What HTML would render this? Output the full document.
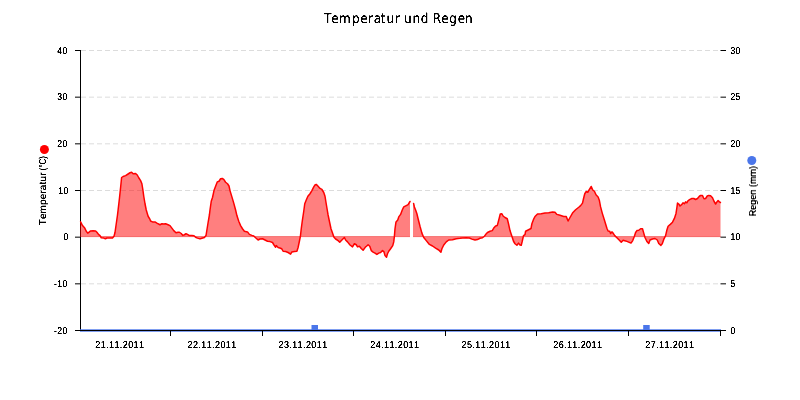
<!DOCTYPE html>
<html lang="de">
<head>
<meta charset="utf-8">
<title>Temperatur und Regen</title>
<style>
html,body{margin:0;padding:0;background:#fff;}
body{width:800px;height:400px;overflow:hidden;}
svg{display:block;}
text{font-family:"Liberation Sans", sans-serif;fill:#000;}
.lab{font-size:10px;letter-spacing:-0.1px;font-kerning:none;text-rendering:geometricPrecision;}
.ttl{font-size:13.7px;font-family:"DejaVu Sans","Liberation Sans",sans-serif;font-kerning:none;text-rendering:geometricPrecision;}
</style>
</head>
<body>
<svg width="800" height="400" viewBox="0 0 800 400">
<defs><filter id="crisp" filterUnits="userSpaceOnUse" x="0" y="0" width="800" height="400" color-interpolation-filters="sRGB"><feComponentTransfer><feFuncA type="linear" slope="3" intercept="-0.5"/></feComponentTransfer></filter><filter id="crisp3" filterUnits="userSpaceOnUse" x="0" y="0" width="800" height="400" color-interpolation-filters="sRGB"><feComponentTransfer><feFuncA type="linear" slope="3" intercept="-0.65"/></feComponentTransfer></filter><filter id="crisp2" filterUnits="userSpaceOnUse" x="0" y="0" width="800" height="400" color-interpolation-filters="sRGB"><feComponentTransfer><feFuncA type="linear" slope="2" intercept="-0.2"/></feComponentTransfer></filter></defs>
<rect x="0" y="0" width="800" height="400" fill="#ffffff"/>
<text class="ttl" transform="scale(0.88,1)" x="368.18 376.52 385.12 399.89 409.47 418.07 424.75 432.58 439.15 448.75 457.84 459.04 468.64 478.22 487.31 491.84 501.52 510.61 520.27 528.30" y="23" filter="url(#crisp3)">Temperatur und Regen</text>
<g stroke="#dcdcdc" stroke-width="1" stroke-dasharray="5 3" fill="none">
<line x1="81" y1="50.50" x2="720" y2="50.50"/>
<line x1="81" y1="97.17" x2="720" y2="97.17"/>
<line x1="81" y1="143.83" x2="720" y2="143.83"/>
<line x1="81" y1="190.50" x2="720" y2="190.50"/>
<line x1="81" y1="283.83" x2="720" y2="283.83"/>
</g>
<line x1="80.5" y1="50" x2="80.5" y2="331" stroke="#000" stroke-width="1"/>
<g fill="#ff0000" fill-opacity="0.5" stroke="none">
<path d="M80 237.0 L80 221.9 L80.6 221.9 L82.5 225.6 L84.75 228.1 L86.25 231.25 L87.75 233.1 L89.4 231.9 L90.6 230.9 L93.1 230.75 L95.6 230.9 L96.9 232.25 L98.5 234.4 L100 235.6 L101.25 237.75 L103.75 238.1 L105.4 238.75 L106.9 238 L110 238 L112.5 237.9 L114 236.25 L115 232.5 L116.25 223.75 L117.5 215 L118.1 210 L119.4 198.75 L120.6 187.5 L121.6 177.5 L123.1 176.5 L125.6 175.6 L128.1 174 L130 172.75 L131.6 172.25 L133.1 173.75 L135.6 173.5 L137.25 175 L138.75 177.75 L140.6 180.6 L141.9 183.75 L142.9 190 L143.75 196.25 L145 203.75 L146.25 210 L148.1 216.25 L150 219.4 L150.6 221 L152.5 221.9 L155 221.9 L156.9 223.1 L160 224.75 L161.9 223.75 L163.75 224.1 L165.6 223.75 L168.1 224.75 L170 225.6 L171.9 228.1 L173.75 230.6 L176 232.75 L178.1 232.25 L179.4 232.25 L181.25 233.5 L182.75 235.4 L184.4 234.75 L186 233.75 L187.5 234.4 L189.4 235.6 L191.9 235.6 L194 235.75 L195.6 237.25 L197.5 238.1 L200 238.9 L201.9 238.25 L204.4 237.5 L206 235.6 L206.9 230 L208.1 222.5 L209.4 215 L210 210 L211.25 201.25 L212.5 197.5 L214 190.6 L215.6 186.25 L217.25 181.9 L219 181.25 L220.6 178.75 L222.25 178.5 L223.75 179.4 L225.6 182.25 L227.5 183.75 L229 186 L230 190.6 L231.9 196.9 L233.75 203.1 L235.6 210 L236.9 215.6 L238.75 221.25 L240.6 225.6 L242.5 228.75 L244.4 231.25 L247.5 231.9 L249.4 234.4 L251.9 235.4 L253.75 236 L255.6 237.75 L258.1 240 L260 239 L262.5 238.75 L265 240 L267.5 241.25 L270 241.6 L272.5 242.5 L274 245 L275.6 247.25 L276.25 245.6 L278.1 247.5 L280.6 248.25 L281.9 249 L283.1 251.25 L285.6 251.5 L288.1 252.5 L290.6 254.1 L291.9 251.9 L294.4 251.5 L296.9 251.25 L298.1 247.5 L299.4 241.25 L300.4 236.25 L301.25 228.75 L302.25 221.25 L303.75 211.25 L304.75 203.75 L306.25 200 L307.9 196.25 L310 193.75 L311.9 190.6 L313.75 186.9 L315 185 L316.25 184.4 L318.1 186.25 L320 188.4 L321.9 189.4 L323.75 192.5 L325 196.25 L326 202.5 L327.25 210 L328.1 215 L329.4 221.25 L331 228.75 L332.5 233.1 L334 237.25 L335.6 239 L338.1 240.6 L339.75 242.25 L341.9 240 L344.4 237.5 L345.6 240 L347.5 241.9 L350 245 L352.5 246.9 L354.4 243.75 L356.25 244.75 L357.5 246.9 L359.4 246.25 L361.25 248.5 L363.1 250.25 L365.6 246.9 L366.5 246.25 L368.1 244.75 L369.75 246.25 L371.25 250.6 L373.1 252.1 L375 253.1 L376.9 254.4 L378.75 253.1 L380.6 252.5 L382.5 250.6 L384 251.9 L385 255.6 L386.5 257.25 L387.5 253.75 L388.75 251.25 L390.6 248.75 L392.75 245.6 L393.75 241.9 L394.4 236.25 L395 228.75 L396 221.9 L397.75 220 L398.75 216.9 L400.6 214.4 L402.25 210 L403.75 206.9 L406.25 205.6 L408.1 204.6 L409.4 202.5 L410 201.5 L410 201.5 L410 237.0 Z"/>
<path d="M413 237.0 L413 203.4 L413.6 203.4 L414.4 206.9 L415.6 210 L416.9 213.75 L418.1 218.75 L420 226.25 L421.9 233.1 L423.75 237.5 L426.25 240.6 L429.4 244.4 L432.5 246 L435.6 248.1 L438.75 250 L440.9 252.25 L441.9 248.75 L443.75 245 L446.25 241.9 L448.75 240 L452.5 239.75 L456.25 238.75 L460 238.3 L462.5 237.9 L466.25 237.75 L469.4 238 L471.9 239.1 L475 240 L477.5 239.6 L480 238.25 L482.5 237.75 L484.4 236.25 L486 234.1 L487.5 232.5 L490 231.25 L492.25 230.6 L493.75 228.1 L495.6 226 L497.25 225.6 L498.1 222.5 L499.4 217.5 L500.25 214 L501.9 213.75 L503.1 216 L505 217.5 L507.25 218.75 L508.5 223.75 L510 230.6 L511.9 236.25 L513.5 241.25 L515 243.75 L516.9 245.25 L518.5 243.1 L520 245 L521.25 245.25 L522.25 241.25 L523.5 235.6 L525 234.6 L525.6 231.25 L528.1 230 L531 228.5 L531.9 223.75 L533.5 219.4 L535 216.5 L537.5 214 L541.25 213.75 L545 213 L548.75 212.75 L552.5 211.9 L555 212.25 L556.9 214.4 L560 215.25 L563.75 216.5 L566.25 216.6 L568.1 221 L570 217.5 L572.5 213.1 L575.6 209.75 L578.75 207.25 L580.6 205.6 L582.5 203.1 L583.5 198.75 L584.75 193.75 L586.25 191.5 L587.75 192.25 L589.4 189.4 L591.25 186.5 L592.75 190 L594.4 191.25 L596 194.75 L598.1 196.9 L599.4 200.6 L600.6 206.9 L602.25 213.1 L604.4 220 L606.9 228.3 L608.1 231 L609.75 231.25 L610.6 233.5 L611.9 231.9 L613.1 233.1 L614.75 235.6 L616.9 237.75 L619.4 240.25 L621.25 242.25 L623.1 240.25 L625.6 240.9 L628.1 241.9 L631 243.1 L632.75 240.6 L634.4 236.25 L635.6 232.5 L636.9 230.6 L638.75 230.25 L640.6 228.75 L642.5 228.75 L643.75 233.1 L645 237.5 L646.9 241.5 L648.75 243.5 L650 240 L652.5 239 L655 238.5 L657.25 240 L658.75 243.5 L660.9 245.4 L662.25 243.75 L663.75 239.4 L665.6 235.6 L666.9 230 L668.1 226.25 L670.3 224.4 L672.5 222.2 L674.4 218.4 L676 213.4 L676.9 207.5 L677.5 203.1 L678.75 204 L680 206 L681.9 204.4 L683.1 202.75 L684.4 203.75 L685.6 201.9 L686.9 202.75 L688.1 200.6 L690 199.4 L691.9 198.5 L693.75 198.5 L695.6 199.5 L697.5 198.5 L699.4 196.25 L700.6 195.5 L702.5 195.6 L704 198.75 L705.6 198.5 L707.25 196 L708.75 195.4 L710.6 195.75 L712.5 197.75 L714 201.25 L715.6 204 L716.9 201.9 L718.1 200.6 L719.4 201.9 L720.4 202.5 L720.5 202.5 L720.5 237.0 Z"/>
</g>
<path d="M81 236.6 H410 M413 236.6 H720.5" stroke="#f76c6c" stroke-width="1" fill="none"/>
<g fill="none" stroke="#ff0000" stroke-width="1.5" stroke-linejoin="round" stroke-linecap="round">
<path d="M80.6 221.9 L82.5 225.6 L84.75 228.1 L86.25 231.25 L87.75 233.1 L89.4 231.9 L90.6 230.9 L93.1 230.75 L95.6 230.9 L96.9 232.25 L98.5 234.4 L100 235.6 L101.25 237.75 L103.75 238.1 L105.4 238.75 L106.9 238 L110 238 L112.5 237.9 L114 236.25 L115 232.5 L116.25 223.75 L117.5 215 L118.1 210 L119.4 198.75 L120.6 187.5 L121.6 177.5 L123.1 176.5 L125.6 175.6 L128.1 174 L130 172.75 L131.6 172.25 L133.1 173.75 L135.6 173.5 L137.25 175 L138.75 177.75 L140.6 180.6 L141.9 183.75 L142.9 190 L143.75 196.25 L145 203.75 L146.25 210 L148.1 216.25 L150 219.4 L150.6 221 L152.5 221.9 L155 221.9 L156.9 223.1 L160 224.75 L161.9 223.75 L163.75 224.1 L165.6 223.75 L168.1 224.75 L170 225.6 L171.9 228.1 L173.75 230.6 L176 232.75 L178.1 232.25 L179.4 232.25 L181.25 233.5 L182.75 235.4 L184.4 234.75 L186 233.75 L187.5 234.4 L189.4 235.6 L191.9 235.6 L194 235.75 L195.6 237.25 L197.5 238.1 L200 238.9 L201.9 238.25 L204.4 237.5 L206 235.6 L206.9 230 L208.1 222.5 L209.4 215 L210 210 L211.25 201.25 L212.5 197.5 L214 190.6 L215.6 186.25 L217.25 181.9 L219 181.25 L220.6 178.75 L222.25 178.5 L223.75 179.4 L225.6 182.25 L227.5 183.75 L229 186 L230 190.6 L231.9 196.9 L233.75 203.1 L235.6 210 L236.9 215.6 L238.75 221.25 L240.6 225.6 L242.5 228.75 L244.4 231.25 L247.5 231.9 L249.4 234.4 L251.9 235.4 L253.75 236 L255.6 237.75 L258.1 240 L260 239 L262.5 238.75 L265 240 L267.5 241.25 L270 241.6 L272.5 242.5 L274 245 L275.6 247.25 L276.25 245.6 L278.1 247.5 L280.6 248.25 L281.9 249 L283.1 251.25 L285.6 251.5 L288.1 252.5 L290.6 254.1 L291.9 251.9 L294.4 251.5 L296.9 251.25 L298.1 247.5 L299.4 241.25 L300.4 236.25 L301.25 228.75 L302.25 221.25 L303.75 211.25 L304.75 203.75 L306.25 200 L307.9 196.25 L310 193.75 L311.9 190.6 L313.75 186.9 L315 185 L316.25 184.4 L318.1 186.25 L320 188.4 L321.9 189.4 L323.75 192.5 L325 196.25 L326 202.5 L327.25 210 L328.1 215 L329.4 221.25 L331 228.75 L332.5 233.1 L334 237.25 L335.6 239 L338.1 240.6 L339.75 242.25 L341.9 240 L344.4 237.5 L345.6 240 L347.5 241.9 L350 245 L352.5 246.9 L354.4 243.75 L356.25 244.75 L357.5 246.9 L359.4 246.25 L361.25 248.5 L363.1 250.25 L365.6 246.9 L366.5 246.25 L368.1 244.75 L369.75 246.25 L371.25 250.6 L373.1 252.1 L375 253.1 L376.9 254.4 L378.75 253.1 L380.6 252.5 L382.5 250.6 L384 251.9 L385 255.6 L386.5 257.25 L387.5 253.75 L388.75 251.25 L390.6 248.75 L392.75 245.6 L393.75 241.9 L394.4 236.25 L395 228.75 L396 221.9 L397.75 220 L398.75 216.9 L400.6 214.4 L402.25 210 L403.75 206.9 L406.25 205.6 L408.1 204.6 L409.4 202.5 L410 201.5"/>
<path d="M413.6 203.4 L414.4 206.9 L415.6 210 L416.9 213.75 L418.1 218.75 L420 226.25 L421.9 233.1 L423.75 237.5 L426.25 240.6 L429.4 244.4 L432.5 246 L435.6 248.1 L438.75 250 L440.9 252.25 L441.9 248.75 L443.75 245 L446.25 241.9 L448.75 240 L452.5 239.75 L456.25 238.75 L460 238.3 L462.5 237.9 L466.25 237.75 L469.4 238 L471.9 239.1 L475 240 L477.5 239.6 L480 238.25 L482.5 237.75 L484.4 236.25 L486 234.1 L487.5 232.5 L490 231.25 L492.25 230.6 L493.75 228.1 L495.6 226 L497.25 225.6 L498.1 222.5 L499.4 217.5 L500.25 214 L501.9 213.75 L503.1 216 L505 217.5 L507.25 218.75 L508.5 223.75 L510 230.6 L511.9 236.25 L513.5 241.25 L515 243.75 L516.9 245.25 L518.5 243.1 L520 245 L521.25 245.25 L522.25 241.25 L523.5 235.6 L525 234.6 L525.6 231.25 L528.1 230 L531 228.5 L531.9 223.75 L533.5 219.4 L535 216.5 L537.5 214 L541.25 213.75 L545 213 L548.75 212.75 L552.5 211.9 L555 212.25 L556.9 214.4 L560 215.25 L563.75 216.5 L566.25 216.6 L568.1 221 L570 217.5 L572.5 213.1 L575.6 209.75 L578.75 207.25 L580.6 205.6 L582.5 203.1 L583.5 198.75 L584.75 193.75 L586.25 191.5 L587.75 192.25 L589.4 189.4 L591.25 186.5 L592.75 190 L594.4 191.25 L596 194.75 L598.1 196.9 L599.4 200.6 L600.6 206.9 L602.25 213.1 L604.4 220 L606.9 228.3 L608.1 231 L609.75 231.25 L610.6 233.5 L611.9 231.9 L613.1 233.1 L614.75 235.6 L616.9 237.75 L619.4 240.25 L621.25 242.25 L623.1 240.25 L625.6 240.9 L628.1 241.9 L631 243.1 L632.75 240.6 L634.4 236.25 L635.6 232.5 L636.9 230.6 L638.75 230.25 L640.6 228.75 L642.5 228.75 L643.75 233.1 L645 237.5 L646.9 241.5 L648.75 243.5 L650 240 L652.5 239 L655 238.5 L657.25 240 L658.75 243.5 L660.9 245.4 L662.25 243.75 L663.75 239.4 L665.6 235.6 L666.9 230 L668.1 226.25 L670.3 224.4 L672.5 222.2 L674.4 218.4 L676 213.4 L676.9 207.5 L677.5 203.1 L678.75 204 L680 206 L681.9 204.4 L683.1 202.75 L684.4 203.75 L685.6 201.9 L686.9 202.75 L688.1 200.6 L690 199.4 L691.9 198.5 L693.75 198.5 L695.6 199.5 L697.5 198.5 L699.4 196.25 L700.6 195.5 L702.5 195.6 L704 198.75 L705.6 198.5 L707.25 196 L708.75 195.4 L710.6 195.75 L712.5 197.75 L714 201.25 L715.6 204 L716.9 201.9 L718.1 200.6 L719.4 201.9 L720.4 202.5"/>
</g>
<g fill="#4b76ea">
<rect x="80" y="329.3" width="641" height="2.4" />
<rect x="311.5" y="325" width="6.5" height="5"/>
<rect x="643.2" y="325" width="6.5" height="5"/>
</g>
<g stroke="#000" stroke-width="1" fill="none">
<line x1="80" y1="330.5" x2="721" y2="330.5"/>
<line x1="75" y1="50.50" x2="80" y2="50.50"/>
<line x1="720.5" y1="50.50" x2="726" y2="50.50"/>
<line x1="75" y1="97.17" x2="80" y2="97.17"/>
<line x1="720.5" y1="97.17" x2="726" y2="97.17"/>
<line x1="75" y1="143.83" x2="80" y2="143.83"/>
<line x1="720.5" y1="143.83" x2="726" y2="143.83"/>
<line x1="75" y1="190.50" x2="80" y2="190.50"/>
<line x1="720.5" y1="190.50" x2="726" y2="190.50"/>
<line x1="75" y1="237.17" x2="80" y2="237.17"/>
<line x1="720.5" y1="237.17" x2="726" y2="237.17"/>
<line x1="75" y1="283.83" x2="80" y2="283.83"/>
<line x1="720.5" y1="283.83" x2="726" y2="283.83"/>
<line x1="75" y1="330.50" x2="80" y2="330.50"/>
<line x1="720.5" y1="330.50" x2="726" y2="330.50"/>
<line x1="170.5" y1="330" x2="170.5" y2="336"/>
<line x1="262.5" y1="330" x2="262.5" y2="336"/>
<line x1="353.5" y1="330" x2="353.5" y2="336"/>
<line x1="445.5" y1="330" x2="445.5" y2="336"/>
<line x1="536.5" y1="330" x2="536.5" y2="336"/>
<line x1="628.5" y1="330" x2="628.5" y2="336"/>
<line x1="720.5" y1="330" x2="720.5" y2="336"/>
</g>
<g class="lab" filter="url(#crisp)">
<text transform="translate(67.8,53.60) scale(0.86,1)" text-anchor="end" style="letter-spacing:0.5px">40</text>
<text transform="translate(67.8,100.27) scale(0.86,1)" text-anchor="end" style="letter-spacing:0.5px">30</text>
<text transform="translate(67.8,146.93) scale(0.86,1)" text-anchor="end" style="letter-spacing:0.5px">20</text>
<text transform="translate(68.8,193.60) scale(0.86,1)" text-anchor="end" style="letter-spacing:0.5px">10</text>
<text transform="translate(68.8,240.27) scale(0.86,1)" text-anchor="end" style="letter-spacing:0.5px">0</text>
<text transform="translate(67.8,286.93) scale(0.86,1)" text-anchor="end" style="letter-spacing:0.5px">-10</text>
<text transform="translate(67.8,333.60) scale(0.86,1)" text-anchor="end" style="letter-spacing:0.5px">-20</text>
<text transform="translate(730.4,53.60) scale(0.86,1)" style="letter-spacing:0.5px">30</text>
<text transform="translate(730.4,100.27) scale(0.86,1)" style="letter-spacing:0.5px">25</text>
<text transform="translate(730.4,146.93) scale(0.86,1)" style="letter-spacing:0.5px">20</text>
<text transform="translate(730.4,193.60) scale(0.86,1)" style="letter-spacing:0.5px">15</text>
<text transform="translate(730.4,240.27) scale(0.86,1)" style="letter-spacing:0.5px">10</text>
<text transform="translate(730.4,286.93) scale(0.86,1)" style="letter-spacing:0.5px">5</text>
<text transform="translate(730.4,333.60) scale(0.86,1)" style="letter-spacing:0.5px">0</text>
<text transform="translate(119.87,347.7) scale(0.9,1)" text-anchor="middle" style="letter-spacing:0.45px">21.11.2011</text>
<text transform="translate(212.12,347.7) scale(0.9,1)" text-anchor="middle" style="letter-spacing:0.45px">22.11.2011</text>
<text transform="translate(303.02,347.7) scale(0.9,1)" text-anchor="middle" style="letter-spacing:0.45px">23.11.2011</text>
<text transform="translate(394.87,347.7) scale(0.9,1)" text-anchor="middle" style="letter-spacing:0.45px">24.11.2011</text>
<text transform="translate(486.17,347.7) scale(0.9,1)" text-anchor="middle" style="letter-spacing:0.45px">25.11.2011</text>
<text transform="translate(577.77,347.7) scale(0.9,1)" text-anchor="middle" style="letter-spacing:0.45px">26.11.2011</text>
<text transform="translate(669.87,347.7) scale(0.9,1)" text-anchor="middle" style="letter-spacing:0.45px">27.11.2011</text>
</g>
<g class="lab" filter="url(#crisp2)">
<text transform="translate(46,225.3) rotate(-90)" style="letter-spacing:0.12px">Temperatur<tspan textLength="16.4" lengthAdjust="spacingAndGlyphs" style="letter-spacing:0"> (°C)</tspan></text>
<text transform="translate(756,216.4) rotate(-90)" textLength="50.4" lengthAdjust="spacingAndGlyphs" style="letter-spacing:0">Regen (mm)</text>
</g>
<circle cx="44.4" cy="149.5" r="4.5" fill="#ff0000"/>
<circle cx="751.8" cy="160.5" r="4.5" fill="#4b76ea"/>
</svg>
</body>
</html>
